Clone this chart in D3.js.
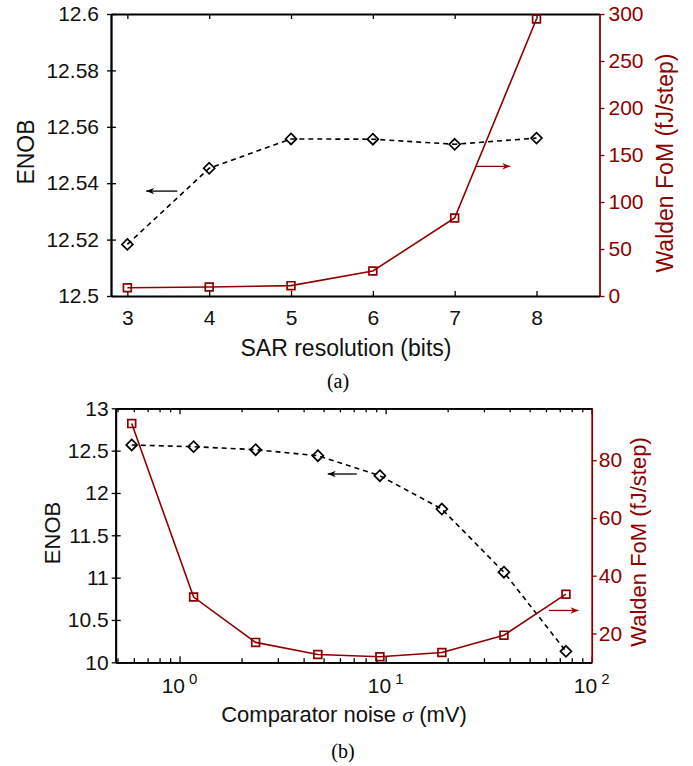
<!DOCTYPE html>
<html lang="en">
<head>
    <meta charset="UTF-8">
    <title>ENOB and Walden FoM</title>
    <script src="https://d3js.org/d3.v7.min.js"></script>
    <style>
        body { margin: 0; background: #fff; }
        svg text { font-family: "Liberation Sans", Arial, Helvetica, sans-serif; }
        .caption { font-family: "Liberation Serif", "Times New Roman", serif !important; }
    </style>
</head>
<body>
    <div id="chart"></div>

    <script>
        // (a) sweep of SAR resolution
        var resBits = [3, 4, 5, 6, 7, 8];
        var enobRes = [12.5183, 12.5453, 12.5557, 12.5556, 12.5538, 12.5560];
        var fomRes = [8.8, 9.6, 11, 26.6, 83, 294.7];
        var resTicks = [3, 4, 5, 6, 7, 8];
        var enobResTicks = [12.5, 12.52, 12.54, 12.56, 12.58, 12.6];
        var fomResTicks = [0, 50, 100, 150, 200, 250, 300];

        // (b) sweep of comparator noise (mV)
        var noiseSigma = [0.586, 1.17, 2.34, 4.69, 9.38, 18.75, 37.5, 75];
        var enobNoise = [12.567, 12.547, 12.511, 12.44, 12.204, 11.81, 11.064, 10.13];
        var fomNoise = [92.7, 32.6, 16.9, 12.7, 11.9, 13.4, 19.4, 33.6];
        var noiseTicks = [1, 10, 100];
        var noiseTickExp = ["0", "1", "2"];
        var enobNoiseTicks = [10, 10.5, 11, 11.5, 12, 12.5, 13];
        var fomNoiseTicks = [20, 40, 60, 80];

        var RED = "#8e0000";
        var width = 693, height = 766;

        var svg = d3.select("#chart").append("svg")
            .attr("width", width)
            .attr("height", height);

        // arrowheads
        var defs = svg.append("defs");
        [["arrowK", "#000"], ["arrowR", RED]].forEach(function(m) {
            defs.append("marker")
                .attr("id", m[0])
                .attr("viewBox", "0 0 10 10")
                .attr("refX", 10).attr("refY", 5)
                .attr("markerWidth", 11).attr("markerHeight", 8)
                .attr("markerUnits", "userSpaceOnUse")
                .attr("orient", "auto")
                .append("path")
                .attr("d", "M0,1 L10,5 L0,9 L3,5 Z")
                .attr("fill", m[1]);
        });

        function diamond(s) { return "M0," + (-s) + "L" + s + ",0L0," + s + "L" + (-s) + ",0Z"; }
        function square(s) { return "M" + (-s) + "," + (-s) + "h" + (2 * s) + "v" + (2 * s) + "h" + (-2 * s) + "Z"; }

        function styleAxis(g, color, fontSize) {
            g.select(".domain").attr("stroke", color).attr("stroke-width", 1.8);
            g.selectAll(".tick line").attr("stroke", color).attr("stroke-width", 1.3);
            g.selectAll(".tick text").attr("fill", color === "#000" ? "#111" : color)
                .style("font-size", fontSize + "px");
            g.attr("font-family", null);
        }

        function drawSeries(g, x, y, xs, ys, color, dashed, marker) {
            var line = d3.line().x(function(d, i) { return x(xs[i]); }).y(function(d) { return y(d); });
            g.append("path")
                .attr("d", line(ys))
                .attr("fill", "none")
                .attr("stroke", color)
                .attr("stroke-width", 1.6)
                .attr("stroke-dasharray", dashed ? "5,4" : null);
            g.selectAll(null)
                .data(ys)
                .enter()
                .append("path")
                .attr("transform", function(d, i) { return "translate(" + x(xs[i]) + "," + y(d) + ")"; })
                .attr("d", marker)
                .attr("fill", "none")
                .attr("stroke", color)
                .attr("stroke-width", 1.7);
        }

        function arrow(g, x1, x2, y, color, id) {
            g.append("line")
                .attr("x1", x1).attr("x2", x2)
                .attr("y1", y).attr("y2", y)
                .attr("stroke", color)
                .attr("stroke-width", 1.3)
                .attr("marker-end", "url(#" + id + ")");
        }

        function rotatedLabel(x, y, text, color, size) {
            svg.append("text")
                .attr("transform", "translate(" + x + "," + y + ") rotate(-90)")
                .attr("text-anchor", "middle")
                .attr("fill", color)
                .style("font-size", size + "px")
                .text(text);
        }

        // ---------------- panel (a) ----------------
        var a = { left: 111, right: 599.5, top: 14, bottom: 296 };
        var xA = d3.scaleLinear().domain([2.8, 8.77]).range([a.left, a.right]);
        var yAL = d3.scaleLinear().domain([12.5, 12.6]).range([a.bottom, a.top]);
        var yAR = d3.scaleLinear().domain([0, 300]).range([a.bottom, a.top]);

        var gA = svg.append("g");

        gA.append("g").attr("transform", "translate(0," + a.top + ")")
            .call(d3.axisTop(xA).tickValues(resTicks).tickSize(-5).tickSizeOuter(0).tickFormat(""))
            .call(styleAxis, "#000", 21);
        gA.append("g").attr("transform", "translate(0," + a.bottom + ")")
            .call(d3.axisBottom(xA).tickValues(resTicks).tickSize(-5).tickSizeOuter(0).tickPadding(14)
                .tickFormat(d3.format("d")))
            .call(styleAxis, "#000", 21);
        gA.append("g").attr("transform", "translate(" + a.left + ",0)")
            .call(d3.axisLeft(yAL).tickValues(enobResTicks).tickSize(-5).tickSizeOuter(0).tickPadding(12)
                .tickFormat(function(d) { return String(d); }))
            .call(styleAxis, "#000", 21);
        gA.append("g").attr("transform", "translate(" + a.left + ",0)")
            .call(d3.axisLeft(yAL).tickValues(enobResTicks).tickSize(4).tickSizeOuter(0).tickFormat(""))
            .call(styleAxis, "#000", 21);
        gA.append("g").attr("transform", "translate(" + a.right + ",0)")
            .call(d3.axisRight(yAR).tickValues(fomResTicks).tickSize(5).tickSizeOuter(0).tickPadding(4))
            .call(styleAxis, RED, 21);

        drawSeries(gA, xA, yAL, resBits, enobRes, "#000", true, diamond(5.5));
        drawSeries(gA, xA, yAR, resBits, fomRes, RED, false, square(3.9));

        arrow(gA, xA(3.61), xA(3.23), yAL(12.5372), "#000", "arrowK");
        arrow(gA, xA(7.27), xA(7.68), yAR(138), RED, "arrowR");

        svg.append("text")
            .attr("x", 346).attr("y", 356)
            .attr("text-anchor", "middle")
            .attr("fill", "#111")
            .style("font-size", "23px")
            .text("SAR resolution (bits)");
        rotatedLabel(34, 152, "ENOB", "#111", 23);
        rotatedLabel(673, 163, "Walden FoM (fJ/step)", RED, 23);

        svg.append("text").attr("class", "caption")
            .attr("x", 338).attr("y", 388)
            .attr("text-anchor", "middle")
            .style("font-size", "20px")
            .text("(a)");

        // ---------------- panel (b) ----------------
        var b = { left: 115.7, right: 591.7, top: 408.3, bottom: 662.3 };
        var xB = d3.scaleLog().domain([0.49, 100]).range([b.left, b.right]);
        var yBL = d3.scaleLinear().domain([10, 13]).range([b.bottom, b.top]);
        var yBR = d3.scaleLinear().domain([10, 98]).range([b.bottom, b.top]);

        var gB = svg.append("g");
        var minorB = xB.ticks().filter(function(d) { return noiseTicks.indexOf(d) < 0; });

        gB.append("g").attr("transform", "translate(0," + b.top + ")")
            .call(d3.axisTop(xB).tickValues(minorB).tickSize(-4).tickSizeOuter(0).tickFormat(""))
            .call(styleAxis, "#000", 21);
        gB.append("g").attr("transform", "translate(0," + b.top + ")")
            .call(d3.axisTop(xB).tickValues(noiseTicks).tickSize(-6).tickSizeOuter(0).tickFormat(""))
            .call(styleAxis, "#000", 21);
        gB.append("g").attr("transform", "translate(0," + b.bottom + ")")
            .call(d3.axisBottom(xB).tickValues(minorB).tickSize(-4).tickSizeOuter(0).tickFormat(""))
            .call(styleAxis, "#000", 21);
        gB.append("g").attr("transform", "translate(0," + b.bottom + ")")
            .call(d3.axisBottom(xB).tickValues(noiseTicks).tickSize(-6).tickSizeOuter(0).tickFormat(""))
            .call(styleAxis, "#000", 21);

        // power-of-ten tick labels
        var powLabels = gB.selectAll(".powlab")
            .data(noiseTicks)
            .enter()
            .append("text")
            .attr("class", "powlab")
            .attr("x", function(d) { return xB(d); })
            .attr("y", 693)
            .attr("text-anchor", "middle")
            .attr("fill", "#111")
            .style("font-size", "21px");
        powLabels.append("tspan").text("10");
        powLabels.append("tspan")
            .attr("dx", 4).attr("dy", -9)
            .style("font-size", "15px")
            .text(function(d, i) { return noiseTickExp[i]; });

        gB.append("g").attr("transform", "translate(" + b.left + ",0)")
            .call(d3.axisLeft(yBL).tickValues(enobNoiseTicks).tickSize(-5).tickSizeOuter(0).tickPadding(7)
                .tickFormat(function(d) { return String(d); }))
            .call(styleAxis, "#000", 21);
        gB.append("g").attr("transform", "translate(" + b.left + ",0)")
            .call(d3.axisLeft(yBL).tickValues(enobNoiseTicks).tickSize(4).tickSizeOuter(0).tickFormat(""))
            .call(styleAxis, "#000", 21);
        gB.append("g").attr("transform", "translate(" + b.right + ",0)")
            .call(d3.axisRight(yBR).tickValues(fomNoiseTicks).tickSize(5).tickSizeOuter(0).tickPadding(2))
            .call(styleAxis, RED, 21);

        drawSeries(gB, xB, yBL, noiseSigma, enobNoise, "#000", true, diamond(5.5));
        drawSeries(gB, xB, yBR, noiseSigma, fomNoise, RED, false, square(3.9));

        arrow(gB, xB(7.24), xB(5.24), yBL(12.224), "#000", "arrowK");
        arrow(gB, xB(62), xB(86.3), yBR(27.96), RED, "arrowR");

        var xlab = svg.append("text")
            .attr("x", 344).attr("y", 722)
            .attr("text-anchor", "middle")
            .attr("fill", "#111")
            .style("font-size", "22px");
        xlab.append("tspan").text("Comparator noise ");
        xlab.append("tspan")
            .style("font-family", "'Liberation Serif', 'Times New Roman', serif")
            .style("font-style", "italic")
            .text("\u03c3");
        xlab.append("tspan").text(" (mV)");

        rotatedLabel(60, 533, "ENOB", "#111", 22);
        rotatedLabel(646, 542, "Walden FoM (fJ/step)", RED, 22);

        svg.append("text").attr("class", "caption")
            .attr("x", 343).attr("y", 758)
            .attr("text-anchor", "middle")
            .style("font-size", "20px")
            .text("(b)");
    </script>
</body>
</html>
